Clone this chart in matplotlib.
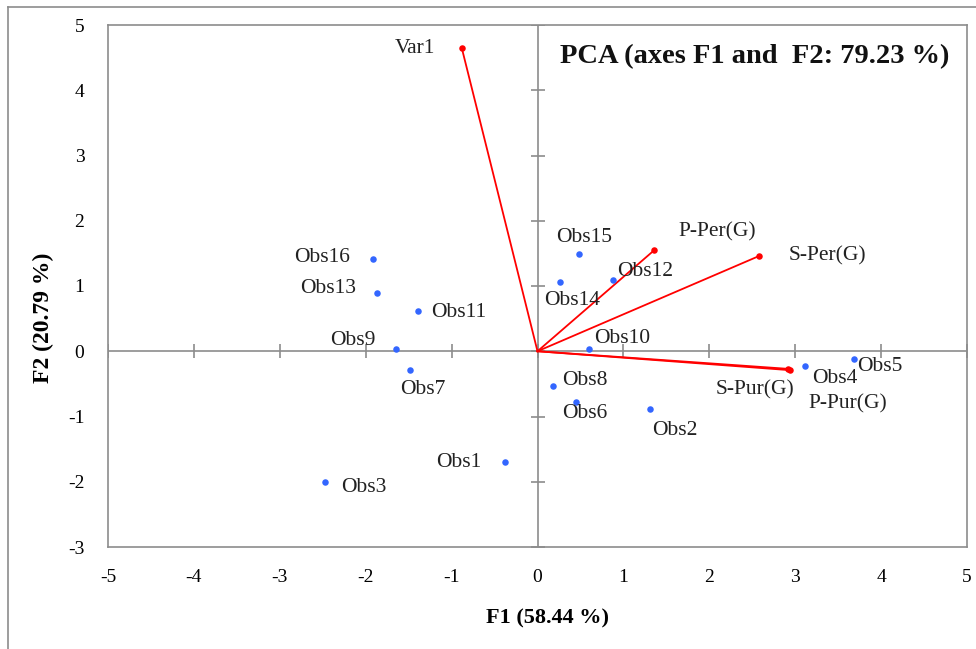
import numpy as np
import matplotlib
matplotlib.use("Agg")
import matplotlib.pyplot as plt
from matplotlib.lines import Line2D

plt.rcParams["font.family"] = ["Liberation Serif", "DejaVu Serif"]
plt.rcParams["axes.unicode_minus"] = False

# ---- data ----
obs_names = ["Obs1", "Obs2", "Obs3", "Obs4", "Obs5", "Obs6", "Obs7", "Obs8",
             "Obs9", "Obs10", "Obs11", "Obs12", "Obs13", "Obs14", "Obs15", "Obs16"]
obs_f1 = [-0.38, 1.31, -2.47, 3.11, 3.68, 0.45, -1.48, 0.18,
          -1.65, 0.60, -1.39, 0.88, -1.87, 0.26, 0.48, -1.91]
obs_f2 = [-1.69, -0.89, -2.01, -0.23, -0.12, -0.78, -0.29, -0.54,
          0.03, 0.03, 0.61, 1.09, 0.90, 1.06, 1.49, 1.41]

var_names = ["Var1", "P-Per(G)", "S-Per(G)", "S-Pur(G)", "P-Pur(G)"]
var_f1 = [-0.88, 1.36, 2.58, 2.94, 2.92]
var_f2 = [4.64, 1.55, 1.46, -0.29, -0.27]

ticks_x = [-5, -4, -3, -2, -1, 0, 1, 2, 3, 4, 5]
ticks_y = [-3, -2, -1, 0, 1, 2, 3, 4, 5]

# label offsets from the point, in points (text centred)
obs_off = {
    "Obs1": (-33, -1), "Obs2": (18, -15), "Obs3": (28, -4), "Obs4": (22, -9),
    "Obs5": (19, -5), "Obs6": (6, -8), "Obs7": (9, -14), "Obs8": (23, 4),
    "Obs9": (-31, 6), "Obs10": (24, 8), "Obs11": (29, -1), "Obs12": (23, 6),
    "Obs13": (-35, 3), "Obs14": (9, -13), "Obs15": (4, 12), "Obs16": (-37, 1),
}
var_off = {
    "Var1": (-34, 0), "P-Per(G)": (45, 13), "S-Per(G)": (49, 0),
    "S-Pur(G)": (-25, -14), "P-Pur(G)": (43, -25),
}

fig = plt.figure(figsize=(9.76, 6.49), dpi=100)
ax = fig.add_axes([108 / 976, 1 - 547 / 649, (967 - 108) / 976, (547 - 25) / 649])

grey = "#8c8c8c"
for s in ax.spines.values():
    s.set_color(grey)
    s.set_linewidth(1.2)

ax.set_xlim(-5, 5)
ax.set_ylim(-3, 5)
ax.set_xticks(ticks_x)
ax.set_yticks(ticks_y)
ax.tick_params(length=0, labelsize=14, pad=16)
ax.tick_params(axis="y", pad=17)

# zero axes with crossing tick marks
ax.axhline(0, color=grey, lw=1.2, zorder=1)
ax.axvline(0, color=grey, lw=1.2, zorder=1)
ax.plot(ticks_x, np.zeros(len(ticks_x)), ls="none", marker="|", ms=10, mew=1.2, color=grey, zorder=1)
ax.plot(np.zeros(len(ticks_y)), ticks_y, ls="none", marker="_", ms=10, mew=1.2, color=grey, zorder=1)

# variable vectors
for name, x, y in zip(var_names, var_f1, var_f2):
    ax.plot([0, x], [0, y], color="#ff0000", lw=1.3, zorder=2)
ax.scatter(var_f1, var_f2, s=22, color="#ff0000", zorder=3, linewidths=0)
for name, x, y in zip(var_names, var_f1, var_f2):
    dx, dy = var_off[name]
    ax.annotate(name, (x, y), xytext=(dx, dy), textcoords="offset points",
                ha="center", va="center", fontsize=15.5, color="#222222")

# observations
ax.scatter(obs_f1, obs_f2, s=22, color="#3366ff", zorder=3, linewidths=0)
for name, x, y in zip(obs_names, obs_f1, obs_f2):
    dx, dy = obs_off[name]
    ax.annotate(name, (x, y), xytext=(dx, dy), textcoords="offset points",
                ha="center", va="center", fontsize=15.5, color="#222222")

ax.text(0.98, 0.94, "PCA (axes F1 and  F2: 79.23 %)", transform=ax.transAxes,
        ha="right", va="center", fontsize=20.5, fontweight="bold", color="#111111")

ax.set_xlabel("F1 (58.44 %)", fontsize=16, fontweight="bold")
ax.set_ylabel("F2 (20.79 %)", fontsize=17, fontweight="bold")
ax.xaxis.set_label_coords(0.512, -0.118)
ax.yaxis.set_label_coords(-0.063, 0.439)

# outer frame (left and top edges)
fig.add_artist(Line2D([8 / 976, 8 / 976], [0, 1 - 7 / 649], color=grey, lw=1.2))
fig.add_artist(Line2D([8 / 976, 1], [1 - 7 / 649, 1 - 7 / 649], color=grey, lw=1.2))

fig.savefig("out.png", dpi=100)
